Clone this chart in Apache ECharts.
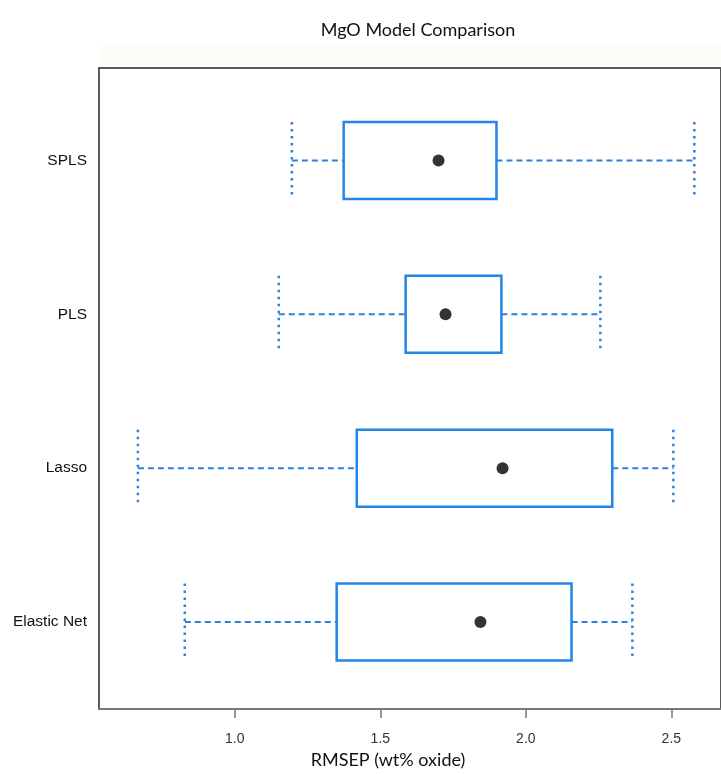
<!DOCTYPE html>
<html>
<head>
<meta charset="utf-8">
<script src="https://cdn.jsdelivr.net/npm/echarts@6/dist/echarts.min.js"></script>
<style>
html,body{margin:0;padding:0;background:#fff;}
#chart{width:721px;height:774px;}
</style>
</head>
<body>
<div id="chart"></div>
<script>
// Categories listed bottom to top (y positions 1..4)
const categories = ['Elastic Net', 'Lasso', 'PLS', 'SPLS'];
const lowerWhisker = [0.828, 0.667, 1.151, 1.196];
const q1 = [1.350, 1.419, 1.587, 1.374];
const median = [1.844, 1.920, 1.724, 1.700];
const q3 = [2.157, 2.297, 1.916, 1.899];
const upperWhisker = [2.366, 2.507, 2.256, 2.579];
const xTicks = [1.0, 1.5, 2.0, 2.5];
const yPositions = [1, 2, 3, 4];

const BLUE = '#2186e8';
const WHISK = '#2f80d8';

const boxData = categories.map((c, i) => [yPositions[i], lowerWhisker[i], q1[i], median[i], q3[i], upperWhisker[i]]);
const medData = categories.map((c, i) => [median[i], yPositions[i]]);

const chart = echarts.init(document.getElementById('chart'), null, {renderer: 'canvas'});

function renderItem(params, api) {
  const y = api.value(0);
  const lw = api.value(1), a = api.value(2), b = api.value(4), uw = api.value(5);
  const half = 0.25;
  const pLw = api.coord([lw, y]);
  const pA = api.coord([a, y]);
  const pB = api.coord([b, y]);
  const pUw = api.coord([uw, y]);
  const top = api.coord([a, y + half])[1];
  const bot = api.coord([a, y - half])[1];
  const dashStyle = {stroke: WHISK, lineWidth: 2, lineDash: [6, 4], fill: null};
  const dotStyle = {stroke: WHISK, lineWidth: 2.5, lineDash: [2.5, 4.5], fill: null};
  return {
    type: 'group',
    children: [
      {type: 'line', shape: {x1: pLw[0], y1: pLw[1], x2: pA[0], y2: pA[1]}, style: dashStyle},
      {type: 'line', shape: {x1: pB[0], y1: pB[1], x2: pUw[0], y2: pUw[1]}, style: dashStyle},
      {type: 'line', shape: {x1: pLw[0], y1: top, x2: pLw[0], y2: bot}, style: dotStyle},
      {type: 'line', shape: {x1: pUw[0], y1: top, x2: pUw[0], y2: bot}, style: dotStyle},
      {type: 'rect', shape: {x: pA[0], y: top, width: pB[0] - pA[0], height: bot - top},
        style: {stroke: BLUE, lineWidth: 2.5, fill: '#fff'}}
    ]
  };
}

const option = {
  backgroundColor: '#ffffff',
  animation: false,
  title: {
    text: 'MgO Model Comparison',
    left: 413,
    top: 16,
    textAlign: 'center',
    textStyle: {fontFamily: 'Lato, sans-serif', fontSize: 18, fontWeight: 'normal', color: '#111'}
  },
  graphic: [
    {type: 'rect', left: 99, top: 46, shape: {width: 622, height: 22}, style: {fill: '#fbfbf8'}, z: -1}
  ],
  grid: {
    left: 99, top: 68, right: -10, bottom: 51,
    show: true, borderColor: '#5a5a5a', borderWidth: 2, backgroundColor: '#fff'
  },
  xAxis: {
    type: 'value',
    min: 0.5333, max: 2.6706,
    name: 'RMSEP (wt% oxide)',
    nameLocation: 'middle',
    nameGap: 36,
    nameTextStyle: {fontFamily: 'Lato, sans-serif', fontSize: 18, color: '#111', padding: [0, 44, 0, 0]},
    axisLine: {show: true, lineStyle: {color: '#777', width: 2}},
    axisTick: {show: true, length: 9, customValues: xTicks, lineStyle: {color: '#777', width: 1.5}},
    axisLabel: {customValues: xTicks, margin: 23, fontSize: 14, color: '#333',
      fontFamily: 'Liberation Sans, sans-serif', formatter: v => v.toFixed(1)},
    splitLine: {show: false}
  },
  yAxis: {
    type: 'value',
    min: 0.434, max: 4.601,
    axisLine: {show: true, lineStyle: {color: '#5a5a5a', width: 2}},
    axisTick: {show: false},
    axisLabel: {customValues: yPositions, margin: 12, fontSize: 15.5, color: '#111',
      fontFamily: 'Liberation Sans, Arial, sans-serif',
      formatter: v => categories[Math.round(v) - 1] || ''},
    splitLine: {show: false}
  },
  series: [
    {
      type: 'custom',
      renderItem: renderItem,
      data: boxData,
      encode: {x: [1, 2, 3, 4, 5], y: 0},
      z: 2
    },
    {
      type: 'scatter',
      data: medData,
      symbol: 'circle',
      symbolSize: 12,
      itemStyle: {color: '#000'},
      z: 3
    }
  ]
};
chart.setOption(option);
</script>
</body>
</html>
